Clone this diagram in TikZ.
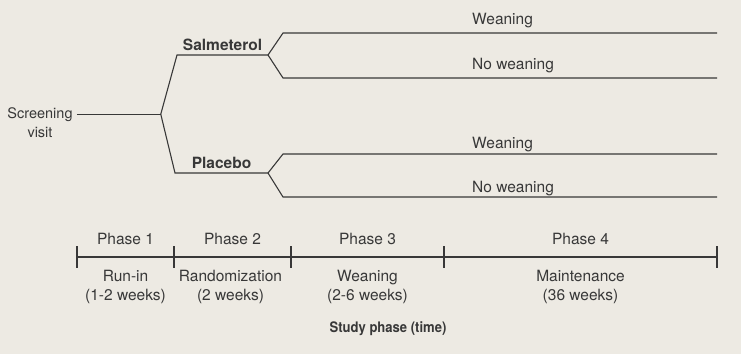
\documentclass[tikz,border=0pt]{standalone}
\usepackage{fontspec}
\setmainfont{TeX Gyre Heros}
\newfontfamily\condfont[FakeStretch=0.9]{TeX Gyre Heros}
\usetikzlibrary{positioning}
\definecolor{scanpaper}{HTML}{EDEAE3}
\definecolor{scanink}{HTML}{383838}

\begin{document}
\begin{tikzpicture}[x=1pt,y=-1pt,
  lbl/.style={font=\fontsize{15.5}{19}\selectfont,text=scanink,inner sep=0pt,align=center},
  arm/.style={font=\fontsize{15.5}{19}\selectfont\bfseries,text=scanink,inner sep=0pt},
  axis/.style={font=\fontsize{14.5}{18}\selectfont\condfont\bfseries,text=scanink,inner sep=0pt},
  ln/.style={draw=scanink,line width=1.1pt}]
  \fill[scanpaper] (0,0) rectangle (741,354);
  \useasboundingbox (0,0) rectangle (741,354);
  % entry
  \node[lbl,font=\fontsize{14.5}{19}\selectfont,anchor=base] (scr) at (40,118) {Screening};
  \node[lbl,font=\fontsize{14.5}{19}\selectfont,anchor=base] (visit) at (40,137) {visit};
  \path (scr.east) ++(88,0) coordinate (fork);
  \draw[ln] ([xshift=4pt]scr.east) -- (fork);
  % treatment arms
  \coordinate (salA) at (177,55);
  \coordinate (salB) at (268,55);
  \coordinate (plaA) at (175,173);
  \coordinate (plaB) at (268,173);
  \draw[ln] (fork) -- (salA) -- node[arm,above=4pt] (salm) {Salmeterol} (salB);
  \draw[ln] (fork) -- (plaA) -- node[arm,above=4pt] (plac) {Placebo} (plaB);
  % weaning branches
  \coordinate (sw1) at (283,33);  \coordinate (sw2) at (717,33);
  \coordinate (sn1) at (283,78);  \coordinate (sn2) at (717,78);
  \coordinate (pw1) at (283,154); \coordinate (pw2) at (717,154);
  \coordinate (pn1) at (283,197); \coordinate (pn2) at (717,197);
  \draw[ln] (salB) -- (sw1) -- (sw2);
  \draw[ln] (salB) -- (sn1) -- (sn2);
  \draw[ln] (plaB) -- (pw1) -- (pw2);
  \draw[ln] (plaB) -- (pn1) -- (pn2);
  \node[lbl,anchor=base west] (swlbl) at (472,24) {Weaning};
  \node[lbl,anchor=base west] (snlbl) at (472,69) {No weaning};
  \node[lbl,anchor=base west] (pwlbl) at (472,148) {Weaning};
  \node[lbl,anchor=base west] (pnlbl) at (472,192) {No weaning};
  % timeline
  \coordinate (t0) at (77,257);
  \coordinate (t1) at (174,257);
  \coordinate (t2) at (291,257);
  \coordinate (t3) at (444,257);
  \coordinate (t4) at (717,257);
  \draw[ln] (t0) -- (t4);
  \foreach \t in {t0,t1,t2,t3,t4}
    \draw[ln] ([yshift=11pt]\t) -- ([yshift=-11pt]\t);
  \path (t0) -- node[lbl,above=12pt] (ph1) {Phase 1} (t1);
  \path (t1) -- node[lbl,above=12pt] (ph2) {Phase 2} (t2);
  \path (t2) -- node[lbl,above=12pt] (ph3) {Phase 3} (t3);
  \path (t3) -- node[lbl,above=12pt] (ph4) {Phase 4} (t4);
  \path (t0) -- node[lbl,below=13pt] (runin) {Run-in\\(1-2 weeks)} (t1);
  \path (t1) -- node[lbl,below=13pt,xshift=-2pt] (rand) {Randomization\\(2 weeks)} (t2);
  \path (t2) -- node[lbl,below=13pt] (wean) {Weaning\\(2-6 weeks)} (t3);
  \path (t3) -- node[lbl,below=13pt] (maint) {Maintenance\\(36 weeks)} (t4);
  \node[axis,anchor=base] (study) at (388,332) {Study phase (time)};
\end{tikzpicture}
\end{document}
